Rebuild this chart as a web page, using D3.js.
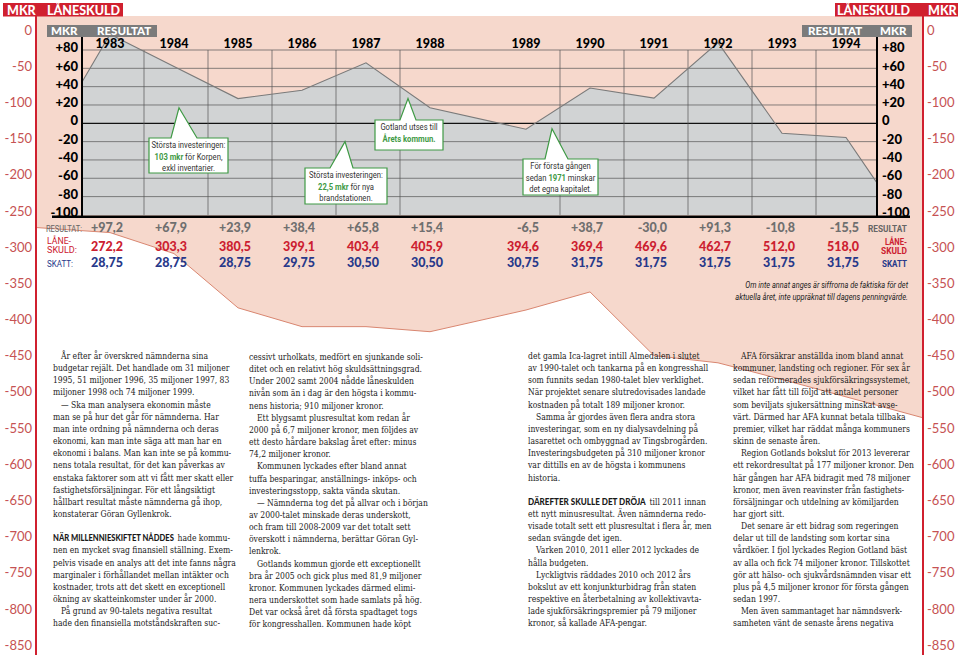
<!DOCTYPE html>
<html><head><meta charset="utf-8">
<script src="https://cdn.jsdelivr.net/npm/d3@7"></script>
<style>body{margin:0;background:#fff}svg{display:block}</style>
</head><body><svg id="c" width="960" height="655"></svg>
<script>
// ---------- DATA ----------
const years = [1983,1984,1985,1986,1987,1988,1989,1990,1991,1992,1993,1994];
const resultatLine = [97.2, 62, 27, 36, 66, 17, -6.5, 38.5, 27.5, 88, -10.8, -15.5];
const resultatEdges = [45, -65];          // where the line meets the left / right frame
const loanLine = [-280, -309, -384, -410, -410, -417, -387, -362, -450, -460, -483, -507];
const loanEdges = [-273, -536];
const resultatLabels = ["+97,2","+67,9","+23,9","+38,4","+65,8","+15,4","-6,5","+38,7","-30,0","+91,3","-10,8","-15,5"];
const loanLabels = ["272,2","303,3","380,5","399,1","403,4","405,9","394,6","369,4","469,6","462,7","512,0","518,0"];
const skattLabels = ["28,75","28,75","28,75","29,75","30,50","30,50","30,75","31,75","31,75","31,75","31,75","31,75"];
const resultatTicks = [80,60,40,20,0,-20,-40,-60,-80,-100];
const resultatTickLabels = ["+80","+60","+40","+20","0","-20","-40","-60","-80","-100"];
const loanTicks = [0,-50,-100,-150,-200,-250,-300,-350,-400,-450,-500,-550,-600,-650,-700,-750,-800,-850];

const col1 = [
 "¶År efter år överskred nämnderna sina",
 "budgetar rejält. Det handlade om 31 miljoner",
 "1995, 51 miljoner 1996, 35 miljoner 1997, 83",
 "miljoner 1998 och 74 miljoner 1999.",
 "¶— Ska man analysera ekonomin måste",
 "man se på hur det går för nämnderna. Har",
 "man inte ordning på nämnderna och deras",
 "ekonomi, kan man inte säga att man har en",
 "ekonomi i balans. Man kan inte se på kommu-",
 "nens totala resultat, för det kan påverkas av",
 "enstaka faktorer som att vi fått mer skatt eller",
 "fastighetsförsäljningar. För ett långsiktigt",
 "hållbart resultat måste nämnderna gå ihop,",
 "konstaterar Göran Gyllenkrok.",
 "",
 "NÄR MILLENNIESKIFTET NÅDDES|hade kommu-",
 "nen en mycket svag finansiell ställning. Exem-",
 "pelvis visade en analys att det inte fanns några",
 "marginaler i förhållandet mellan intäkter och",
 "kostnader, trots att det skett en exceptionell",
 "ökning av skatteinkomster under år 2000.",
 "¶På grund av 90-talets negativa resultat",
 "hade den finansiella motståndskraften suc-"];
const col2 = [
 "cessivt urholkats, medfört en sjunkande soli-",
 "ditet och en relativt hög skuldsättningsgrad.",
 "Under 2002 samt 2004 nådde låneskulden",
 "nivån som än i dag är den högsta i kommu-",
 "nens historia; 910 miljoner kronor.",
 "¶Ett blygsamt plusresultat kom redan år",
 "2000 på 6,7 miljoner kronor, men följdes av",
 "ett desto hårdare bakslag året efter: minus",
 "74,2 miljoner kronor.",
 "¶Kommunen lyckades efter bland annat",
 "tuffa besparingar, anställnings- inköps- och",
 "investeringsstopp, sakta vända skutan.",
 "¶— Nämnderna tog det på allvar och i början",
 "av 2000-talet minskade deras underskott,",
 "och fram till 2008-2009 var det totalt sett",
 "överskott i nämnderna, berättar Göran Gyl-",
 "lenkrok.",
 "¶Gotlands kommun gjorde ett exceptionellt",
 "bra år 2005 och gick plus med 81,9 miljoner",
 "kronor. Kommunen lyckades därmed elimi-",
 "nera underskottet som hade samlats på hög.",
 "Det var också året då första spadtaget togs",
 "för kongresshallen. Kommunen hade köpt"];
const col3 = [
 "det gamla Ica-lagret intill Almedalen i slutet",
 "av 1990-talet och tankarna på en kongresshall",
 "som funnits sedan 1980-talet blev verklighet.",
 "När projektet senare slutredovisades landade",
 "kostnaden på totalt 189 miljoner kronor.",
 "¶Samma år gjordes även flera andra stora",
 "investeringar, som en ny dialysavdelning på",
 "lasarettet och ombyggnad av Tingsbrogården.",
 "Investeringsbudgeten på 310 miljoner kronor",
 "var dittills en av de högsta i kommunens",
 "historia.",
 "",
 "DÄREFTER SKULLE DET DRÖJA|till 2011 innan",
 "ett nytt minusresultat. Även nämnderna redo-",
 "visade totalt sett ett plusresultat i flera år, men",
 "sedan svängde det igen.",
 "¶Varken 2010, 2011 eller 2012 lyckades de",
 "hålla budgeten.",
 "¶Lyckligtvis räddades 2010 och 2012 års",
 "bokslut av ett konjunkturbidrag från staten",
 "respektive en återbetalning av kollektivavta-",
 "lade sjukförsäkringspremier på 79 miljoner",
 "kronor, så kallade AFA-pengar."];
const col4 = [
 "¶AFA försäkrar anställda inom bland annat",
 "kommuner, landsting och regioner. För sex år",
 "sedan reformerades sjukförsäkringssystemet,",
 "vilket har fått till följd att antalet personer",
 "som beviljats sjukersättning minskat avse-",
 "värt. Därmed har AFA kunnat betala tillbaka",
 "premier, vilket har räddat många kommuners",
 "skinn de senaste åren.",
 "¶Region Gotlands bokslut för 2013 levererar",
 "ett rekordresultat på 177 miljoner kronor. Den",
 "här gången har AFA bidragit med 78 miljoner",
 "kronor, men även reavinster från fastighets-",
 "försäljningar och utdelning av kömiljarden",
 "har gjort sitt.",
 "¶Det senare är ett bidrag som regeringen",
 "delar ut till de landsting som kortar sina",
 "vårdköer. I fjol lyckades Region Gotland bäst",
 "av alla och fick 74 miljoner kronor. Tillskottet",
 "gör att hälso- och sjukvårdsnämnden visar ett",
 "plus på 4,5 miljoner kronor för första gången",
 "sedan 1997.",
 "¶Men även sammantaget har nämndsverk-",
 "samheten vänt de senaste årens negativa"];

// ---------- SETUP ----------
const svg = d3.select("#c");
const RED = "#d0202f", PINK = "#f6d8cc", GREY = "#d1d3d4", NAVY = "#27398a", GREEN = "#3f9a45";
const SANS = "Lato, 'Open Sans', sans-serif";
const NARROW = "Roboto, 'Liberation Sans', sans-serif";
const SERIF = "'DejaVu Serif', serif";

function measure(s, fam, fs, fw, fst){
  const t = svg.append("text").attr("font-family",fam).attr("font-size",fs).attr("font-weight",fw||"normal")
    .attr("font-style",fst||"normal").text(s);
  const w = t.node().getComputedTextLength(); t.remove(); return w;
}
// text squeezed horizontally to a target width
function squeezed(x, y, s, w, opts){
  const o = Object.assign({fam:NARROW, fs:9, fw:"normal", fst:"normal", fill:"#222", anchor:"start"}, opts||{});
  const k = w / measure(s, o.fam, o.fs, o.fw, o.fst);
  return svg.append("text").attr("transform",`translate(${x},${y}) scale(${k},1)`)
    .attr("text-anchor",o.anchor).attr("font-family",o.fam).attr("font-size",o.fs)
    .attr("font-weight",o.fw).attr("font-style",o.fst).attr("fill",o.fill).text(s);
}

const xs = d3.scaleLinear().domain([0, 11.5]).range([110, 846]);
const xPos = i => xs(i + (i >= 6 ? 0.5 : 0));
const yRes = d3.scaleLinear().domain([0, 80]).range([123.3, 50]);
const yLoan = d3.scaleLinear().domain([0, -850]).range([30, 645]);
const plotL = 82, plotR = 877, frameL = 36, frameR = 923, topY = 16;

const resPts = [[plotL, resultatEdges[0]], ...years.map((y,i)=>[xPos(i), resultatLine[i]]), [plotR, resultatEdges[1]]];
const loanPts = [[frameL, loanEdges[0]], ...years.map((y,i)=>[xPos(i), loanLine[i]]), [frameR, loanEdges[1]]];

// pink loan area
svg.append("path")
  .attr("d", d3.area().x(d=>d[0]).y0(topY).y1(d=>yLoan(d[1]))(loanPts))
  .attr("fill", PINK);
svg.append("path")
  .attr("d", d3.line().x(d=>d[0]).y(d=>yLoan(d[1]))(loanPts))
  .attr("fill","none").attr("stroke","#d98670").attr("stroke-width",1);

// grey resultat area
svg.append("path")
  .attr("d", d3.area().x(d=>d[0]).y0(yRes(-100)).y1(d=>yRes(d[1]))(resPts))
  .attr("fill", GREY);

// gridlines
const g = svg.append("g");
resultatTicks.forEach(t=>{
  if (t === -100) return;
  g.append("line").attr("x1",plotL).attr("x2",plotR).attr("y1",yRes(t)).attr("y2",yRes(t))
   .attr("stroke", t===0 ? "#111" : "#555").attr("stroke-width", t===0 ? 1.3 : 0.7);
});
for (let i=0;i<11;i++){
  if (i===5) continue;
  const xv = (xPos(i)+xPos(i+1))/2 + 2;
  g.append("line").attr("x1",xv).attr("x2",xv).attr("y1",yRes(80)).attr("y2",yRes(-100))
   .attr("stroke","#555").attr("stroke-width",0.7);
}
// resultat line
svg.append("path")
  .attr("d", d3.line().x(d=>d[0]).y(d=>yRes(d[1]))(resPts))
  .attr("fill","none").attr("stroke","#7a7a7a").attr("stroke-width",1.1);

// axes black
svg.append("line").attr("x1",plotL).attr("x2",plotL).attr("y1",37).attr("y2",yRes(-100)+2).attr("stroke","#000").attr("stroke-width",2);
svg.append("line").attr("x1",plotR).attr("x2",plotR).attr("y1",37).attr("y2",yRes(-100)+2).attr("stroke","#000").attr("stroke-width",2);
svg.append("line").attr("x1",52).attr("x2",910).attr("y1",yRes(-100)+1.8).attr("y2",yRes(-100)+1.8).attr("stroke","#000").attr("stroke-width",2.6);

// resultat tick labels
resultatTicks.forEach((t,i)=>{
  const yy = yRes(t) - 2.5;
  svg.append("text").attr("x",78).attr("y",yy).attr("dy","0.36em").attr("text-anchor","end")
    .attr("font-family",SANS).attr("font-weight",900).attr("font-size",13).text(resultatTickLabels[i]);
  svg.append("text").attr("x",882).attr("y",yy).attr("dy","0.36em")
    .attr("font-family",SANS).attr("font-weight",900).attr("font-size",13).text(resultatTickLabels[i]);
});
// year labels
years.forEach((y,i)=>{
  svg.append("text").attr("x",xPos(i)).attr("y",48).attr("text-anchor","middle")
    .attr("font-family",SANS).attr("font-weight",900).attr("font-size",12.5).text(y);
});

// loan frame lines and ticks
[frameL, frameR].forEach(x=>{
  svg.append("line").attr("x1",x).attr("x2",x).attr("y1",topY).attr("y2",655).attr("stroke",RED).attr("stroke-width",2);
});
loanTicks.forEach(t=>{
  svg.append("text").attr("x",32).attr("y",yLoan(t)).attr("dy","0.36em").attr("text-anchor","end")
    .attr("font-family",SANS).attr("font-size",13).attr("fill","#c65253").text(t);
  svg.append("text").attr("x",927).attr("y",yLoan(t)).attr("dy","0.36em")
    .attr("font-family",SANS).attr("font-size",13).attr("fill","#c65253").text(t);
});

// headers
function hbox(x,w,y,h,fill,items,fs){
  svg.append("rect").attr("x",x).attr("y",y).attr("width",w).attr("height",h).attr("fill",fill);
  items.forEach(([tx,s])=>svg.append("text").attr("x",tx).attr("y",y+h-2).attr("fill","#fff")
    .attr("font-family",SANS).attr("font-weight",900).attr("font-size",fs).text(s));
}
hbox(3,120,3,13.5,RED,[[7,"MKR"],[47,"LÅNESKULD"]],12.5);
hbox(835,123,3,13.5,RED,[[837,"LÅNESKULD"],[928,"MKR"]],12.5);
hbox(47,110,25,12,"#7b7b7b",[[51,"MKR"],[97,"RESULTAT"]],11.5);
hbox(802,110,25,12,"#7b7b7b",[[808,"RESULTAT"],[880,"MKR"]],11.5);

// callouts
const CF = 9.6;
const cScale = 74 / measure("Största investeringen:", NARROW, CF);
function callout(bx,by,bw,bh,ax,ay,b1,b2,lines){
  const p = `M${bx},${by}L${b1},${by}L${ax},${ay}L${b2},${by}L${bx+bw},${by}L${bx+bw},${by+bh}L${bx},${by+bh}Z`;
  svg.append("path").attr("d",p).attr("fill","#fff").attr("stroke",GREEN).attr("stroke-width",1.2);
  const cx = bx+bw/2;
  lines.forEach((ln,k)=>{
    const t = svg.append("text").attr("transform",`translate(${cx},${by+10.3+k*11.3}) scale(${cScale},1)`)
      .attr("text-anchor","middle").attr("font-family",NARROW).attr("font-size",CF).attr("fill","#333");
    ln.forEach(([s,b])=>t.append("tspan").attr("font-weight",b?"bold":"normal").attr("fill",b?GREEN:"#333").text(s));
  });
}
callout(149,138,79,35, xPos(1)+5, yRes(17), 171,197, [[["Största investeringen:"]],[["103 mkr",1],[" för Korpen,"]],[["exkl inventarier."]]]);
callout(375,120,68,30, 408, yRes(27), 400,416, [[["Gotland utses till"]],[["Årets kommun.",1]]]);
callout(305,168,82,36, 345, yRes(-20), 330,353, [[["Största investeringen:"]],[["22,5 mkr",1],[" för nya"]],[["brandstationen."]]]);
callout(523,159,75,36, 552, yRes(-6), 545,568, [[["För första gången"]],[["sedan "],["1971",1],[" minskar"]],[["det egna kapitalet."]]]);

// table
const rowY = [231.5, 250.5, 267];
years.forEach((y,i)=>{
  const xe = xPos(i)+13;
  [[resultatLabels,"#6f6f6f"],[loanLabels,"#cc2030"],[skattLabels,NAVY]].forEach(([arr,c],r)=>{
    svg.append("text").attr("x",xe).attr("y",rowY[r]).attr("text-anchor","end")
      .attr("font-family",SANS).attr("font-weight",900).attr("font-size",12.5).attr("fill",c).text(arr[i]);
  });
});
function lab(x,y,s,c,w,anchor,bold){
  squeezed(x, y, s, w, {fs:8.8, fw: bold?"bold":"normal", fill:c, anchor: anchor||"start"});
}
lab(46,232,"RESULTAT:","#666",36);
lab(47,244,"LÅNE-","#cc2030",24);
lab(47,253,"SKULD:","#cc2030",30);
lab(47,267,"SKATT:",NAVY,26);
lab(907,231.5,"RESULTAT","#666",39,"end",1);
lab(907,244.5,"LÅNE-","#cc2030",22,"end",1);
lab(907,253.5,"SKULD","#cc2030",26,"end",1);
lab(907,267,"SKATT",NAVY,25,"end",1);
squeezed(908,288,"Om inte annat anges är siffrorna de faktiska för det",163,{fs:9.3,fst:"italic",anchor:"end"});
squeezed(908,299.5,"aktuella året, inte uppräknat till dagens penningvärde.",173,{fs:9.3,fst:"italic",anchor:"end"});

// body text
const BF = 9.4;
const bScale = 180 / measure("enstaka faktorer som att vi fått mer skatt eller", SERIF, BF);
const leadW = {"NÄR MILLENNIESKIFTET NÅDDES":121, "DÄREFTER SKULLE DET DRÖJA":118};
function column(lines,x,y0){
  lines.forEach((ln,k)=>{
    if(!ln) return;
    const y = y0 + k*12.15;
    let indent = 0;
    if (ln.startsWith("¶")) { indent = 8; ln = ln.slice(1); }
    let xx = x + indent, rest = ln;
    if (ln.includes("|")) {
      const [b,r] = ln.split("|");
      squeezed(xx, y, b, leadW[b], {fam:SANS, fw:900, fs:8.6, fill:"#1a1a1a"});
      xx += leadW[b] + 3.5; rest = r;
    }
    svg.append("text").attr("transform",`translate(${xx},${y}) scale(${bScale},1)`)
      .attr("font-family",SERIF).attr("font-size",BF).attr("fill","#1a1a1a").text(rest);
  });
}
column(col1,53,359);
column(col2,249,360);
column(col3,528,359);
column(col4,733,359);
</script></body></html>
